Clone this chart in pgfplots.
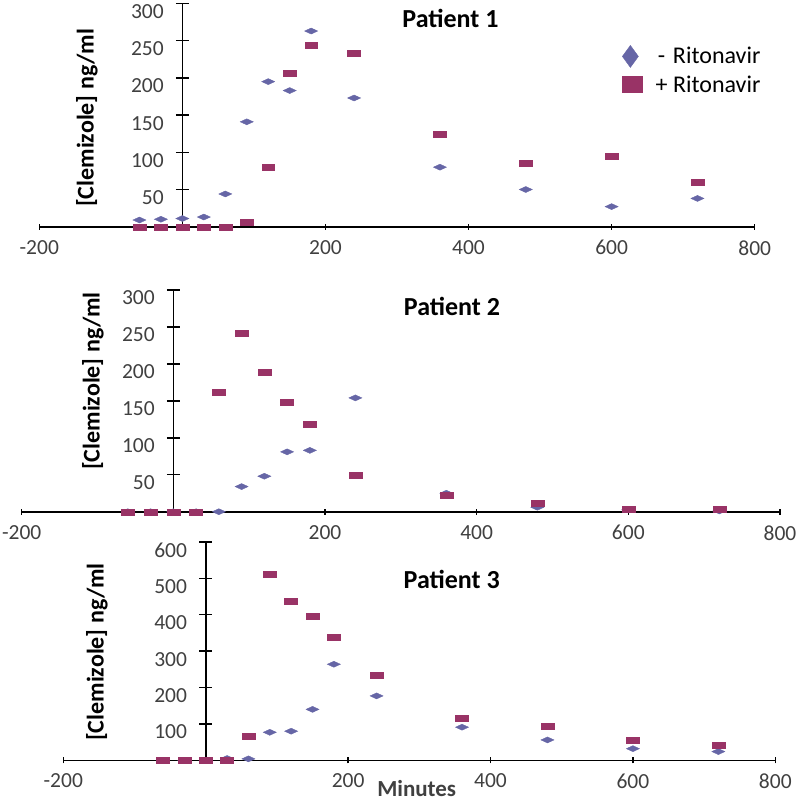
\documentclass[border=0pt]{standalone}
\usepackage{pgfplots}
\pgfplotsset{compat=1.18}
\usepackage{fontspec}
\setmainfont{Carlito}
\definecolor{dia}{HTML}{6666A6}
\definecolor{sq}{HTML}{993366}
\definecolor{ticktext}{HTML}{404040}
\pgfplotsset{
  panel/.style={
    scale only axis,
    anchor=south west,
    axis x line=middle, axis y line=middle,
    axis line style={-, line width=1.6pt, black},
    xmin=-200, xmax=800, ymin=0,
    xtick={-200,200,400,600,800},
    xticklabels={-200,200,400,600,800},
    tick style={black, line width=1.4pt},
    tick align=center,
    xtick style={/pgfplots/major tick length=6pt},
    ytick style={/pgfplots/major tick length=13pt},
    clip=false,
    ticklabel style={font=\fontsize{21.5}{25}\selectfont, text=ticktext},
    xticklabel style={yshift=-8pt},
    yticklabel style={xshift=-13pt, yshift=-8pt},
  },
  dmark/.style={only marks, mark=diamond*, mark size=3pt, color=dia,
    mark options={xscale=2.9, draw=none, fill=dia},
    legend image code/.code={\fill[dia] (0pt,0pt) -- (8pt,11pt) -- (16pt,0pt) -- (8pt,-11pt) -- cycle;}},
  smark/.style={only marks, mark=square*, mark size=3pt, color=sq,
    mark options={xscale=2.15, draw=none, fill=sq},
    legend image code/.code={\fill[sq] (0pt,-8pt) rectangle (20pt,8pt);}},
}
\begin{document}
\begin{tikzpicture}
\useasboundingbox (0pt,0pt) rectangle (797pt,-804pt);
% Panel 1
\begin{axis}[panel, at={(39.3pt,-226.7pt)}, width=715.4pt, height=223.2pt,
  ymax=300, ytick={50,100,150,200,250,300}, yticklabels={50,100,150,200,250,300},
  legend style={at={(0.8145,0.814)}, anchor=north west, draw=none, fill=none,
    font=\fontsize{24}{28}\selectfont, text=black, inner sep=0pt, row sep=6pt, column sep=11pt},
  legend cell align=left]
\addplot[dmark] coordinates {(-60,9)(-30,10)(0,11)(30,13)(60,44)(90,141)(120,195)(150,183)(180,263)(240,173)(360,80)(480,50)(600,27)(720,38)};
\addlegendentry{\makebox[0.5em][c]{-}\ Ritonavir}
\addplot[smark] coordinates {(-60,0)(-30,0)(0,0)(30,0)(60,0)(90,6)(120,80)(150,206)(180,244)(240,233)(360,125)(480,85)(600,95)(720,60)};
\addlegendentry{\makebox[0.5em][c]{+}\ Ritonavir}
\end{axis}
% Panel 2
\begin{axis}[panel, at={(21.7pt,-511.7pt)}, width=758.3pt, height=221.7pt,
  ymax=300, ytick={50,100,150,200,250,300}, yticklabels={50,100,150,200,250,300}]
\addplot[dmark] coordinates {(-60,0)(-30,0)(0,0)(30,0)(60,0)(90,34)(120,48)(150,81)(180,83)(240,154)(360,25)(480,6)(600,3)(720,1)};
\addplot[smark] coordinates {(-60,0)(-30,0)(0,0)(30,0)(60,162)(90,241)(120,189)(150,148)(180,118)(240,50)(360,22)(480,11)(600,4)(720,3)};
\end{axis}
% Panel 3
\begin{axis}[panel, at={(63.3pt,-760.3pt)}, width=712pt, height=218.3pt,
  ymax=600, ytick={100,200,300,400,500,600}, yticklabels={100,200,300,400,500,600}]
\addplot[dmark] coordinates {(-60,0)(-30,0)(0,0)(30,5)(60,4)(90,77)(120,80)(150,140)(180,264)(240,177)(360,91)(480,56)(600,32)(720,24)};
\addplot[smark] coordinates {(-60,0)(-30,0)(0,0)(30,0)(60,67)(90,511)(120,437)(150,396)(180,339)(240,234)(360,117)(480,95)(600,56)(720,42)};
\end{axis}
% Titles and labels
\node[font=\fontsize{26}{30}\selectfont\bfseries] at (450.5pt,-18pt) {Patient 1};
\node[font=\fontsize{26}{30}\selectfont\bfseries] at (452pt,-306pt) {Patient 2};
\node[font=\fontsize{26}{30}\selectfont\bfseries] at (451.7pt,-579.7pt) {Patient 3};
\node[font=\fontsize{24}{28}\selectfont\bfseries, rotate=90] at (87pt,-118pt) {[Clemizole] ng/ml};
\node[font=\fontsize{24}{28}\selectfont\bfseries, rotate=90] at (93pt,-381pt) {[Clemizole] ng/ml};
\node[font=\fontsize{24}{28}\selectfont\bfseries, rotate=90] at (97pt,-652pt) {[Clemizole] ng/ml};
\node[font=\fontsize{23}{27}\selectfont\bfseries, text=ticktext, anchor=base, inner sep=0pt] at (416.7pt,-796pt) {Minutes};
\end{tikzpicture}
\end{document}
